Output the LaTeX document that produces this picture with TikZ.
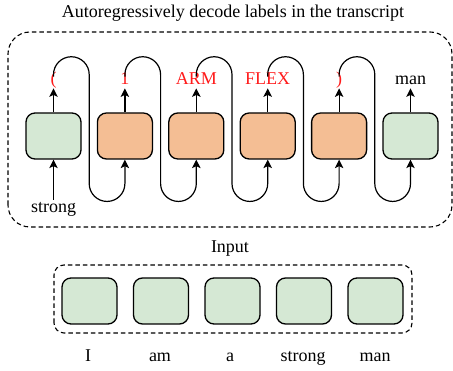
\documentclass[tikz,border=0pt]{standalone}
\usepackage{fontspec}
\setmainfont{Liberation Serif}
\usetikzlibrary{arrows.meta}
\definecolor{tokgreen}{HTML}{D5E8D4}
\definecolor{tokorange}{HTML}{F4BE94}
\definecolor{labred}{HTML}{FF1A1A}

\begin{document}
\begin{tikzpicture}[x=1pt,y=1pt,
    font=\fontsize{18}{21}\selectfont,
    token/.style={draw, line width=1.3pt, rounded corners=9pt,
      minimum width=55pt, minimum height=46pt, inner sep=0pt},
    enc/.style={token, fill=tokgreen},
    gen/.style={token, fill=tokorange},
    outlabel/.style={anchor=base, inner sep=1pt, text height=0.72em, text depth=0.22em},
    frame/.style={draw, line width=1.1pt, dash pattern=on 4.5pt off 3pt},
    flow/.style={line width=1.2pt, -{Stealth[length=8.5pt,width=8.5pt,inset=2pt]}}]
        \useasboundingbox (0,0) rectangle (453,371);
        % Decoder
        \draw[frame, rounded corners=22pt] (8,144) rectangle (452,339);
        \node[anchor=base] (title) at (233,353.5) {Autoregressively decode labels in the transcript};
        \node[enc] (d1) at (53.5,235) {};
        \node[gen] (d2) at (124.9,235) {};
        \node[gen] (d3) at (196.3,235) {};
        \node[gen] (d4) at (267.7,235) {};
        \node[gen] (d5) at (339.1,235) {};
        \node[enc] (d6) at (410.5,235) {};
        % Output
        \node[outlabel, text=labred] (o1) at (53.5,286) {(};
        \node[outlabel, text=labred] (o2) at (124.9,286) {1};
        \node[outlabel, text=labred] (o3) at (196.3,286) {ARM};
        \node[outlabel, text=labred] (o4) at (267.7,286) {FLEX};
        \node[outlabel, text=labred] (o5) at (339.1,286) {)};
        \node[outlabel] (o6) at (410.5,286) {man};
        \draw[flow] (d1.north) -- (o1.south);
        \draw[flow] (d2.north) -- (o2.south);
        \draw[flow] (d3.north) -- (o3.south);
        \draw[flow] (d4.north) -- (o4.south);
        \draw[flow] (d5.north) -- (o5.south);
        \draw[flow] (d6.north) -- (o6.south);
        % Feed back
        \node[anchor=base, inner sep=3pt] (prev) at (53.5,158) {strong};
        \draw[flow] (prev.north) -- (d1.south);
        \draw[flow] (o1.north) -- ++(0,2) arc[start angle=180, end angle=0, radius=17.85]
          -- ++(0,-109) arc[start angle=180, end angle=360, radius=17.85] -- (d2.south);
        \draw[flow] (o2.north) -- ++(0,2) arc[start angle=180, end angle=0, radius=17.85]
          -- ++(0,-109) arc[start angle=180, end angle=360, radius=17.85] -- (d3.south);
        \draw[flow] (o3.north) -- ++(0,2) arc[start angle=180, end angle=0, radius=17.85]
          -- ++(0,-109) arc[start angle=180, end angle=360, radius=17.85] -- (d4.south);
        \draw[flow] (o4.north) -- ++(0,2) arc[start angle=180, end angle=0, radius=17.85]
          -- ++(0,-109) arc[start angle=180, end angle=360, radius=17.85] -- (d5.south);
        \draw[flow] (o5.north) -- ++(0,2) arc[start angle=180, end angle=0, radius=17.85]
          -- ++(0,-109) arc[start angle=180, end angle=360, radius=17.85] -- (d6.south);
        % Input
        \node[anchor=base] (inputlbl) at (230,118) {Input};
        \draw[frame, rounded corners=10pt] (54,38) rectangle (412,106);
        \node[enc] (e1) at (89.5,70) {};
        \node[enc] (e2) at (161,70) {};
        \node[enc] (e3) at (232.5,70) {};
        \node[enc] (e4) at (304,70) {};
        \node[enc] (e5) at (375.5,70) {};
        \node[anchor=base] (w1) at (88,9) {I};
        \node[anchor=base] (w2) at (160,9) {am};
        \node[anchor=base] (w3) at (230,9) {a};
        \node[anchor=base] (w4) at (303,9) {strong};
        \node[anchor=base] (w5) at (375,9) {man};
      \end{tikzpicture}
\end{document}
